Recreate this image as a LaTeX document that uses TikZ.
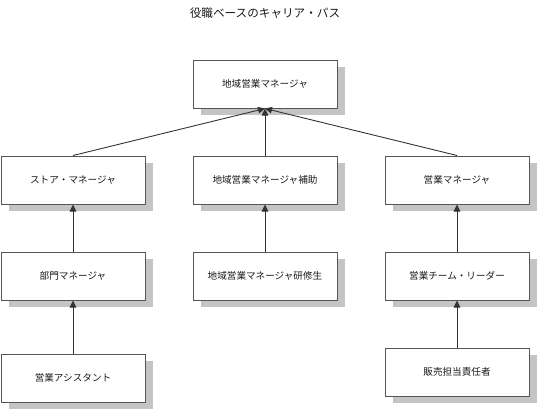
\documentclass[tikz,border=0pt]{standalone}
\usepackage{fontspec}
\setmainfont{Noto Sans CJK JP}
\usetikzlibrary{arrows.meta,shadows}
\definecolor{boxline}{HTML}{555555}
\definecolor{shade}{HTML}{C4C4C4}
\definecolor{linkc}{HTML}{333333}
\tikzset{
  rolebox/.style={draw=boxline, line width=1pt, fill=white, minimum width=144pt, minimum height=48pt, inner sep=0pt,
    font=\fontsize{9.6}{11}\selectfont, text=black!90,
    general shadow={fill=shade, shadow xshift=8pt, shadow yshift=-7pt, draw=none}},
  link/.style={draw=linkc, line width=0.9pt, -{Triangle[length=7pt,width=6.5pt]}},
}
\begin{document}
\begin{tikzpicture}[x=1pt,y=-1pt]
\useasboundingbox (0,0) rectangle (537,410);
\node[font=\fontsize{11.6}{13}\selectfont, text=black!90] (title) at (265,13) {役職ベースのキャリア・パス};
\node[rolebox] (top) at (265,84) {地域営業マネージャ};
\node[rolebox] (l2) at (73,180) {ストア・マネージャ};
\node[rolebox] (m2) at (265,180) {地域営業マネージャ補助};
\node[rolebox] (r2) at (457,180) {営業マネージャ};
\node[rolebox] (l3) at (73,276) {部門マネージャ};
\node[rolebox] (m3) at (265,276) {地域営業マネージャ研修生};
\node[rolebox] (r3) at (457,276) {営業チーム・リーダー};
\node[rolebox] (l4) at (73,378) {営業アシスタント};
\node[rolebox] (r4) at (457,372) {販売担当責任者};
\draw[link] (l2.north) -- (top.south);
\draw[link] (m2.north) -- (top.south);
\draw[link] (r2.north) -- (top.south);
\draw[link] (l3.north) -- (l2.south);
\draw[link] (m3.north) -- (m2.south);
\draw[link] (r3.north) -- (r2.south);
\draw[link] (l4.north) -- (l3.south);
\draw[link] (r4.north) -- (r3.south);
\end{tikzpicture}
\end{document}
